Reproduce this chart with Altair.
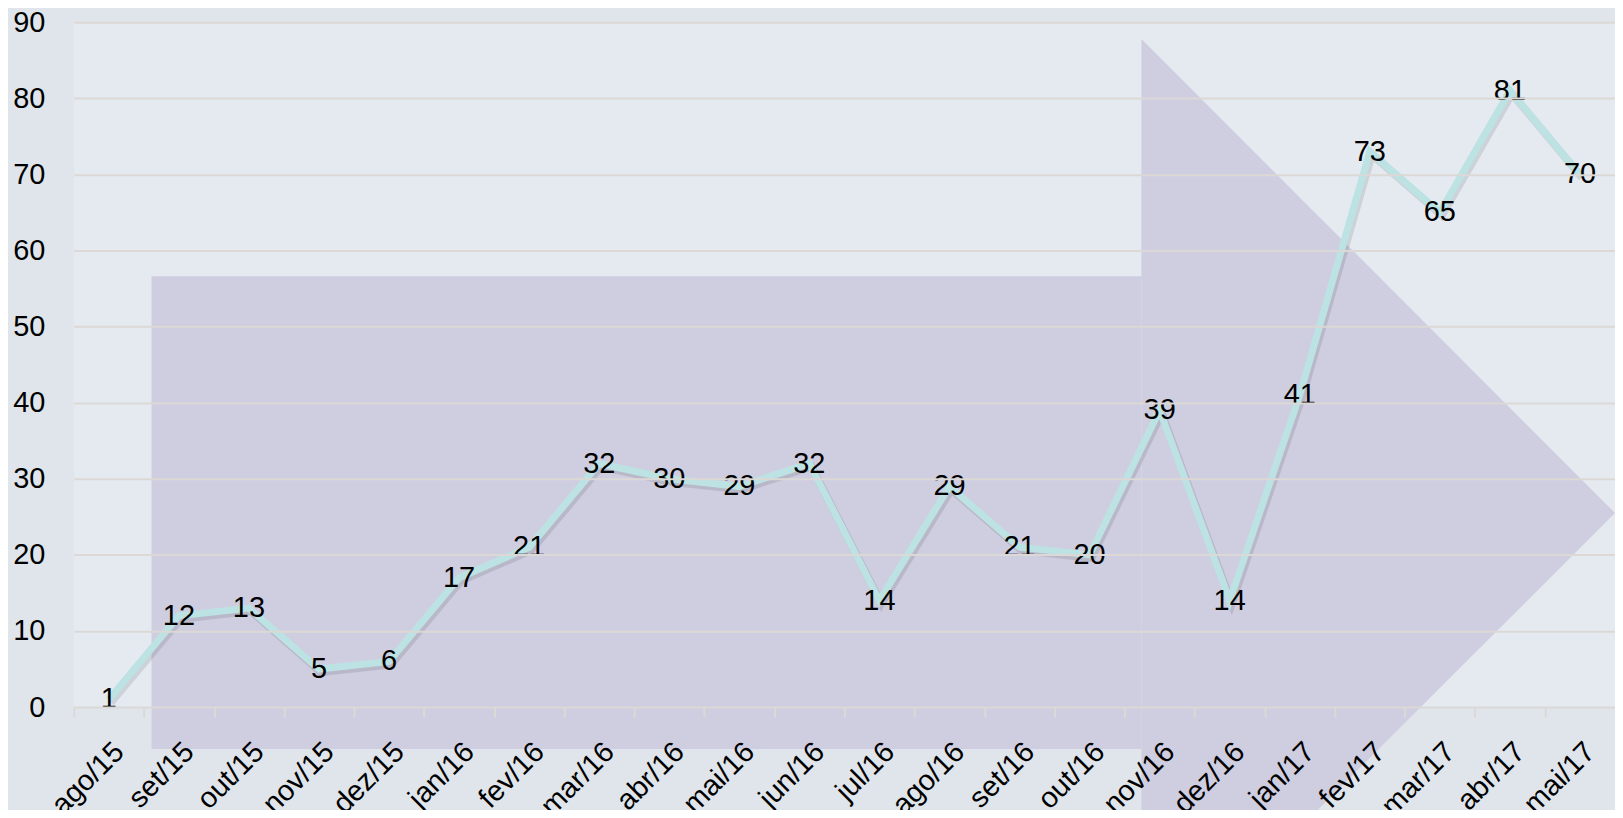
import json
import altair as alt
import pandas as pd

# ---- data ----
months = ["ago/15", "set/15", "out/15", "nov/15", "dez/15", "jan/16", "fev/16",
          "mar/16", "abr/16", "mai/16", "jun/16", "jul/16", "ago/16", "set/16",
          "out/16", "nov/16", "dez/16", "jan/17", "fev/17", "mar/17", "abr/17",
          "mai/17"]
values = [1, 12, 13, 5, 6, 17, 21, 32, 30, 29, 32, 14, 29, 21, 20, 39, 14, 41,
          73, 65, 81, 70]

# decorative background arrow (in chart data units)
arrow_shaft_x = [0.61, 14.74]
arrow_shaft_y = [-5.5, 56.6]
arrow_head_x = [14.74, 17.16, 21.5]
arrow_head_top = [87.8, 65.5, 25.5]
arrow_head_bottom = [-14.4, -14.4, 25.5]

df = pd.DataFrame({"idx": list(range(len(months))), "month": months, "value": values})
shaft = pd.DataFrame({"x": [arrow_shaft_x[0]], "x2": [arrow_shaft_x[1]],
                      "y": [arrow_shaft_y[0]], "y2": [arrow_shaft_y[1]]})
head = pd.DataFrame({"x": arrow_head_x, "top": arrow_head_top, "bottom": arrow_head_bottom})

FONT = "Liberation Sans"
xscale = alt.Scale(domain=[-0.5, len(months) - 0.5], nice=False, zero=False)
yscale = alt.Scale(domain=[0, 90], nice=False, zero=False)

label_expr = json.dumps(months) + "[datum.value]"

shaft_layer = alt.Chart(shaft).mark_rect(color="#cfcde0").encode(
    x=alt.X("x:Q", scale=xscale, axis=None),
    x2="x2:Q",
    y=alt.Y("y:Q", scale=yscale),
    y2="y2:Q",
)

head_layer = alt.Chart(head).mark_area(color="#cfcde0", interpolate="linear").encode(
    x=alt.X("x:Q", scale=xscale, axis=None),
    y=alt.Y("top:Q", scale=yscale),
    y2="bottom:Q",
)

shadow_layer = alt.Chart(df).mark_line(
    color="#000000", opacity=0.10, strokeWidth=8, xOffset=2, yOffset=3,
    strokeJoin="miter",
).encode(
    x=alt.X("idx:Q", scale=xscale, axis=None),
    y=alt.Y("value:Q", scale=yscale),
)

line_layer = alt.Chart(df).mark_line(
    color="#bde2e3", strokeWidth=7, strokeJoin="miter",
).encode(
    x=alt.X("idx:Q", scale=xscale,
            axis=alt.Axis(values=list(range(len(months))), labelExpr=label_expr,
                          ticks=False, domain=False, grid=False, labelAngle=-45,
                          labelAlign="right", labelBaseline="top",
                          labelPadding=30, labelFont=FONT, labelFontSize=29,
                          labelColor="#000000", orient="bottom", title=None,
                          labelOverlap=False, labelBound=False, labelFlush=False,
                          zindex=2)),
    y=alt.Y("value:Q", scale=yscale,
            axis=alt.Axis(values=list(range(0, 91, 10)), title=None, ticks=False,
                          domain=False, grid=True, gridColor="#dbd8d5",
                          gridWidth=2, labelFont=FONT, labelFontSize=29,
                          labelColor="#000000", labelPadding=29, zindex=1)),
)

text_layer = alt.Chart(df).mark_text(
    font=FONT, fontSize=29, color="#000000", align="center", baseline="middle",
).encode(
    x=alt.X("idx:Q", scale=xscale,
            axis=alt.Axis(values=[i - 0.5 for i in range(len(months))],
                          labels=False, ticks=True, tickSize=10, tickWidth=2,
                          tickColor="#dcd9d5", domain=False, grid=False,
                          orient="bottom", title=None, zindex=1)),
    y=alt.Y("value:Q", scale=yscale),
    text=alt.Text("value:Q"),
)

chart = alt.layer(shaft_layer, head_layer, shadow_layer, line_layer, text_layer).resolve_axis(
    x="independent"
).properties(
    width=1546,
    height=687,
    autosize=alt.AutoSizeParams(type="none"),
    padding={"left": 66, "top": 13, "right": 0, "bottom": 102},
    background="#dfe5eb",
).configure_view(
    stroke=None,
    fill="#e4eaf0",
)

chart.save("out.html", embed_options={"renderer": "svg", "actions": False})
